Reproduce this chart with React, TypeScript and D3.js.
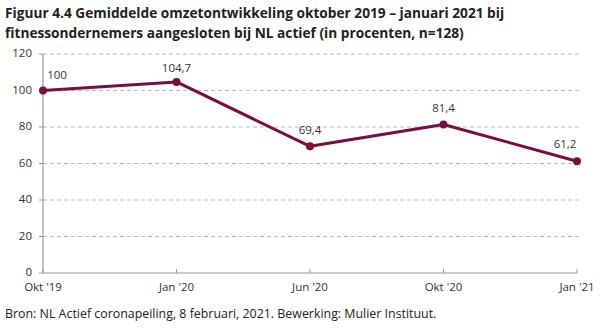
import React from "react";
import * as d3 from "d3";

const categories = ["Okt '19", "Jan '20", "Jun '20", "Okt '20", "Jan '21"];
const values = [100, 104.7, 69.4, 81.4, 61.2];
const valueLabels = ["100", "104,7", "69,4", "81,4", "61,2"];
const yTicks = [0, 20, 40, 60, 80, 100, 120];
const titleLines = [
  "Figuur 4.4 Gemiddelde omzetontwikkeling oktober 2019 – januari 2021 bij",
  "fitnessondernemers aangesloten bij NL actief (in procenten, n=128)",
];
const sourceText = "Bron: NL Actief coronapeiling, 8 februari, 2021. Bewerking: Mulier Instituut.";

export default function App() {
  const W = 599, H = 331;
  const left = 43, right = 577, top = 54, bottom = 273;
  const x = d3.scalePoint<string>().domain(categories).range([left, right]);
  const y = d3.scaleLinear().domain([0, 120]).range([bottom, top]);
  const line = d3.line<number>().x((_, i) => x(categories[i])!).y((d) => y(d));
  const font = "'Open Sans', 'DejaVu Sans', sans-serif";
  const color = "#7a0e3e";
  const labelOffsets = [
    { dx: 14, dy: -12, anchor: "middle" },
    { dx: 0, dy: -10, anchor: "middle" },
    { dx: 0, dy: -12, anchor: "middle" },
    { dx: 0, dy: -12, anchor: "middle" },
    { dx: -12, dy: -13, anchor: "middle" },
  ];
  return (
    <svg width={W} height={H} style={{ position: "absolute", left: 0, top: 0, background: "#fff" }} fontFamily={font}>
      {titleLines.map((t, i) => (
        <text key={i} x={5} y={18 + i * 20} fontSize={13.7} fontWeight={700} fill="#222">
          {t}
        </text>
      ))}
      {yTicks.filter((t) => t > 0).map((t) => (
        <line key={t} x1={left} x2={right + 3} y1={y(t)} y2={y(t)} stroke="#bbb" strokeDasharray="4,3" strokeWidth={1} />
      ))}
      <line x1={left} x2={left} y1={top} y2={bottom} stroke="#999" strokeWidth={1.2} />
      <line x1={left} x2={right} y1={bottom} y2={bottom} stroke="#999" strokeWidth={1.2} />
      {yTicks.map((t) => (
        <g key={t}>
          <line x1={left - 4} x2={left} y1={y(t)} y2={y(t)} stroke="#999" />
          <text x={32} y={y(t) - 1} dy="0.35em" textAnchor="end" fontSize={11.5} fill="#333">
            {t}
          </text>
        </g>
      ))}
      {categories.map((c) => (
        <g key={c}>
          <line x1={x(c)} x2={x(c)} y1={bottom} y2={bottom - 4} stroke="#999" />
          <text x={x(c)} y={bottom + 18} textAnchor="middle" fontSize={11.5} fill="#333">
            {c}
          </text>
        </g>
      ))}
      <path d={line(values)!} fill="none" stroke={color} strokeWidth={3} strokeLinejoin="round" />
      {values.map((v, i) => (
        <circle key={i} cx={x(categories[i])} cy={y(v)} r={4} fill={color} />
      ))}
      {values.map((v, i) => (
        <text key={i} x={x(categories[i])! + labelOffsets[i].dx} y={y(v) + labelOffsets[i].dy} textAnchor={labelOffsets[i].anchor} fontSize={11.5} fill="#333">
          {valueLabels[i]}
        </text>
      ))}
      <text x={5} y={318} fontSize={12.4} fill="#222">
        {sourceText}
      </text>
    </svg>
  );
}
